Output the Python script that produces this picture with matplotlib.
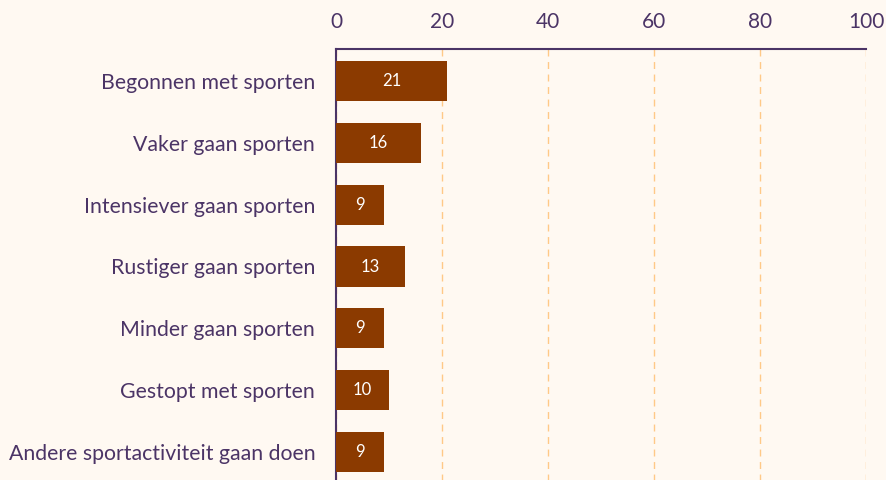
import matplotlib
matplotlib.use('Agg')
import matplotlib.pyplot as plt

categories = ['Begonnen met sporten', 'Vaker gaan sporten', 'Intensiever gaan sporten',
              'Rustiger gaan sporten', 'Minder gaan sporten', 'Gestopt met sporten',
              'Andere sportactiviteit gaan doen']
values = [21, 16, 9, 13, 9, 10, 9]
xticks = [0, 20, 40, 60, 80, 100]

bg = '#fff9f2'
barcol = '#8b3a00'
txtcol = '#4b3466'
gridcol = '#ffc987'

plt.rcParams['font.family'] = ['Lato', 'DejaVu Sans']

fig = plt.figure(figsize=(8.86, 4.8), dpi=100, facecolor=bg)
ax = fig.add_axes([336/886, -4/480, 530/886, 435/480])
ax.set_facecolor(bg)

ypos = list(range(len(categories)))
ax.barh(ypos, values, height=0.65, color=barcol, zorder=3)
for y, v in zip(ypos, values):
    ax.text(v / 2, y, str(v), ha='center', va='center', color='white',
            fontsize=12, zorder=4)

ax.set_xlim(0, 100)
ax.set_ylim(len(categories) - 0.48, -0.52)
ax.set_xticks(xticks)
ax.set_yticks(ypos)
ax.set_yticklabels(categories)
ax.xaxis.tick_top()
ax.tick_params(axis='x', length=0, pad=12, labelsize=15, labelcolor=txtcol)
ax.tick_params(axis='y', length=0, pad=15, labelsize=15.3, labelcolor=txtcol)
ax.grid(axis='x', color=gridcol, linestyle=(0, (5, 4)), linewidth=1, zorder=1)

for side in ['right', 'bottom']:
    ax.spines[side].set_visible(False)
for side in ['top', 'left']:
    ax.spines[side].set_color(txtcol)
    ax.spines[side].set_linewidth(1.5)

fig.savefig('out.png', dpi=100, facecolor=bg)
